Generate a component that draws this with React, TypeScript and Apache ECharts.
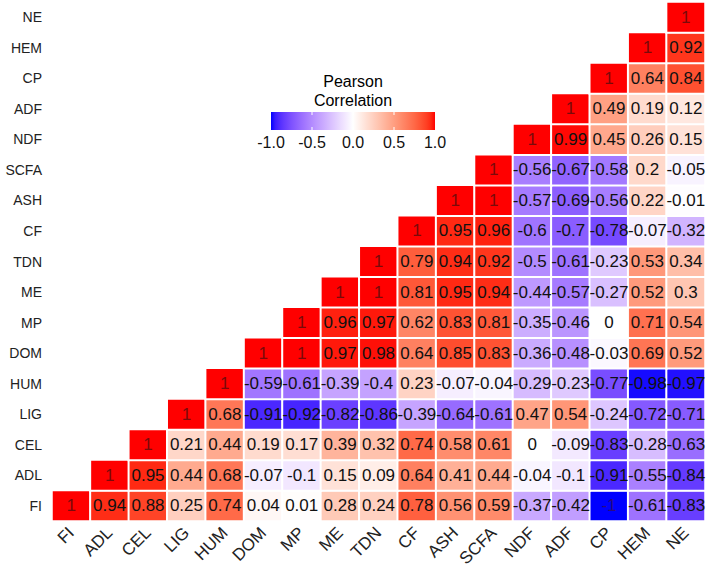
import React, { useEffect, useRef } from "react";
import * as echarts from "echarts";

const variables = ["FI", "ADL", "CEL", "LIG", "HUM", "DOM", "MP", "ME", "TDN", "CF", "ASH", "SCFA", "NDF", "ADF", "CP", "HEM", "NE"];

// Each row starts at its own diagonal cell and runs right to NE
const rowFI = [1, 0.94, 0.88, 0.25, 0.74, 0.04, 0.01, 0.28, 0.24, 0.78, 0.56, 0.59, -0.37, -0.42, -1, -0.61, -0.83];
const rowADL = [1, 0.95, 0.44, 0.68, -0.07, -0.1, 0.15, 0.09, 0.64, 0.41, 0.44, -0.04, -0.1, -0.91, -0.55, -0.84];
const rowCEL = [1, 0.21, 0.44, 0.19, 0.17, 0.39, 0.32, 0.74, 0.58, 0.61, 0, -0.09, -0.83, -0.28, -0.63];
const rowLIG = [1, 0.68, -0.91, -0.92, -0.82, -0.86, -0.39, -0.64, -0.61, 0.47, 0.54, -0.24, -0.72, -0.71];
const rowHUM = [1, -0.59, -0.61, -0.39, -0.4, 0.23, -0.07, -0.04, -0.29, -0.23, -0.77, -0.98, -0.97];
const rowDOM = [1, 1, 0.97, 0.98, 0.64, 0.85, 0.83, -0.36, -0.48, -0.03, 0.69, 0.52];
const rowMP = [1, 0.96, 0.97, 0.62, 0.83, 0.81, -0.35, -0.46, 0, 0.71, 0.54];
const rowME = [1, 1, 0.81, 0.95, 0.94, -0.44, -0.57, -0.27, 0.52, 0.3];
const rowTDN = [1, 0.79, 0.94, 0.92, -0.5, -0.61, -0.23, 0.53, 0.34];
const rowCF = [1, 0.95, 0.96, -0.6, -0.7, -0.78, -0.07, -0.32];
const rowASH = [1, 1, -0.57, -0.69, -0.56, 0.22, -0.01];
const rowSCFA = [1, -0.56, -0.67, -0.58, 0.2, -0.05];
const rowNDF = [1, 0.99, 0.45, 0.26, 0.15];
const rowADF = [1, 0.49, 0.19, 0.12];
const rowCP = [1, 0.64, 0.84];
const rowHEM = [1, 0.92];
const rowNE = [1];

const rows = [rowFI, rowADL, rowCEL, rowLIG, rowHUM, rowDOM, rowMP, rowME, rowTDN, rowCF, rowASH, rowSCFA, rowNDF, rowADF, rowCP, rowHEM, rowNE];

const legendTicks = [-1, -0.5, 0, 0.5, 1];
const legendTitleLines = ["Pearson", "Correlation"];

// ---- Lab interpolation (like ggplot's scale_fill_gradient2) ----
const WX = 0.95047, WY = 1.0, WZ = 1.08883;
function toLin(c: number) { c /= 255; return c <= 0.04045 ? c / 12.92 : Math.pow((c + 0.055) / 1.055, 2.4); }
function fromLin(c: number) { const v = c <= 0.0031308 ? 12.92 * c : 1.055 * Math.pow(c, 1 / 2.4) - 0.055; return Math.max(0, Math.min(255, Math.round(v * 255))); }
function f(t: number) { return t > 0.008856 ? Math.cbrt(t) : 7.787 * t + 16 / 116; }
function fi(t: number) { const t3 = t * t * t; return t3 > 0.008856 ? t3 : (t - 16 / 116) / 7.787; }
function rgbToLab(rgb: number[]) {
  const R = toLin(rgb[0]), G = toLin(rgb[1]), B = toLin(rgb[2]);
  const X = (0.4124 * R + 0.3576 * G + 0.1805 * B) / WX;
  const Y = (0.2126 * R + 0.7152 * G + 0.0722 * B) / WY;
  const Z = (0.0193 * R + 0.1192 * G + 0.9505 * B) / WZ;
  const fx = f(X), fy = f(Y), fz = f(Z);
  return [116 * fy - 16, 500 * (fx - fy), 200 * (fy - fz)];
}
function labToRgb(lab: number[]) {
  const fy = (lab[0] + 16) / 116, fx = fy + lab[1] / 500, fz = fy - lab[2] / 200;
  const X = fi(fx) * WX, Y = fi(fy) * WY, Z = fi(fz) * WZ;
  const R = 3.2406 * X - 1.5372 * Y - 0.4986 * Z;
  const G = -0.9689 * X + 1.8758 * Y + 0.0415 * Z;
  const B = 0.0557 * X - 0.204 * Y + 1.057 * Z;
  return "rgb(" + fromLin(R) + "," + fromLin(G) + "," + fromLin(B) + ")";
}
const labW = rgbToLab([255, 255, 255]);
const labR = rgbToLab([255, 0, 0]);
const labB = rgbToLab([0, 0, 255]);
function colorFor(v: number) {
  const t = Math.abs(v);
  const end = v < 0 ? labB : labR;
  return labToRgb([0, 1, 2].map((i) => labW[i] + (end[i] - labW[i]) * t));
}
const STEPS = 40;
const colorStops: string[] = [];
for (let i = 0; i <= STEPS; i++) colorStops.push(colorFor(-1 + (2 * i) / STEPS));

const FONT = "'Liberation Sans', Arial, sans-serif";

export default function App() {
  const ref = useRef<HTMLDivElement>(null);
  useEffect(() => {
    document.body.style.margin = "0";
    const chart = echarts.init(ref.current!, null, { renderer: "svg" });

    const data: any[] = [];
    rows.forEach((row, y) => {
      row.forEach((v, k) => {
        const x = y + k;
        let lc = "#111";
        if (v === 1) lc = "#7a0a0a";
        if (v === -1) lc = "#2a0a80";
        data.push({ value: [x, y, v], label: { color: lc } });
      });
    });

    const barX = 271, barY = 112, barW = 164, barH = 18;
    const graphics: any[] = [
      {
        type: "rect",
        shape: { x: barX, y: barY, width: barW, height: barH },
        style: {
          fill: new echarts.graphic.LinearGradient(0, 0, 1, 0, colorStops.map((c, i) => ({ offset: i / STEPS, color: c }))),
        },
      },
    ];
    legendTitleLines.forEach((line, i) => {
      graphics.push({
        type: "text",
        x: 353,
        y: 81 + i * 19,
        style: { text: line, fontSize: 16, fontFamily: FONT, fill: "#000", align: "center", verticalAlign: "middle" },
      });
    });
    legendTicks.forEach((t) => {
      const px = barX + ((t + 1) / 2) * barW;
      if (t > -1 && t < 1) {
        graphics.push({ type: "line", shape: { x1: px, y1: barY, x2: px, y2: barY + 3 }, style: { stroke: "#fff", lineWidth: 1 } });
        graphics.push({ type: "line", shape: { x1: px, y1: barY + barH - 3, x2: px, y2: barY + barH }, style: { stroke: "#fff", lineWidth: 1 } });
      }
      graphics.push({
        type: "text",
        x: px,
        y: barY + barH + 4,
        style: { text: t.toFixed(1), fontSize: 16, fontFamily: FONT, fill: "#111", align: "center", verticalAlign: "top" },
      });
    });

    chart.setOption({
      animation: false,
      backgroundColor: "#fff",
      grid: { left: 52, right: 3, top: 2, bottom: 50, outerBoundsMode: "none" },
      xAxis: {
        type: "category",
        data: variables,
        axisLine: { show: false },
        axisTick: { show: false },
        splitLine: { show: false },
        axisLabel: { rotate: 45, fontSize: 17, fontFamily: FONT, color: "#222", margin: 9, interval: 0 },
      },
      yAxis: {
        type: "category",
        data: variables,
        axisLine: { show: false },
        axisTick: { show: false },
        splitLine: { show: false },
        axisLabel: { fontSize: 14, fontFamily: FONT, color: "#222", margin: 10, interval: 0 },
      },
      visualMap: {
        show: false,
        type: "continuous",
        min: -1,
        max: 1,
        dimension: 2,
        inRange: { color: colorStops },
      },
      graphic: graphics,
      series: [
        {
          type: "heatmap",
          data,
          itemStyle: { borderColor: "#fff", borderWidth: 2 },
          label: {
            show: true,
            fontSize: 17,
            fontFamily: FONT,
            formatter: (p: any) => String(p.value[2]),
          },
          emphasis: { disabled: true },
        },
      ],
    });
    return () => chart.dispose();
  }, []);
  return <div ref={ref} style={{ width: 708, height: 571, position: "fixed", left: 0, top: 0 }} />;
}
